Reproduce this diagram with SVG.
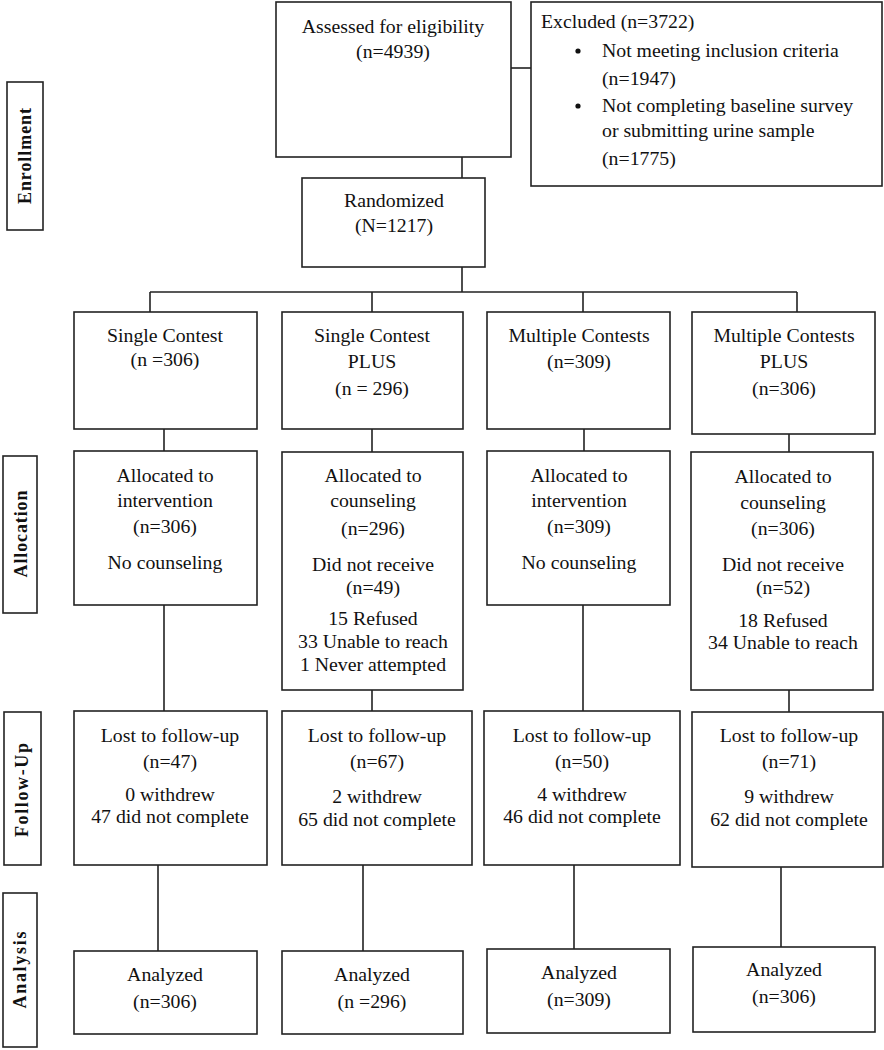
<svg xmlns="http://www.w3.org/2000/svg" width="884" height="1050" viewBox="0 0 884 1050" font-family="'Liberation Serif', 'Times New Roman', serif">
<style>
.b{fill:#fff;stroke:#222;stroke-width:1.6}
.c{fill:none;stroke:#222;stroke-width:1.6}
text{font-family:'Liberation Serif','Times New Roman',serif;font-size:19.8px;fill:#111}
.m{text-anchor:middle}
.s{font-weight:bold;font-size:18px;text-anchor:middle}
</style>
<rect width="884" height="1050" fill="#fff"/>
<g id="connectors">
<path class="c" d="M511 68H531"/>
<path class="c" d="M462 157V178"/>
<path class="c" d="M462 267V292M150 292H797M150 292V312M372 292V312M583 292V312M797 292V312"/>
<path class="c" d="M164 429V451M372 429V452M584 429V451M789 434V452"/>
<path class="c" d="M164 605V711M372 690V711M583 605V711M789 690V712"/>
<path class="c" d="M158 865V951M363 865V951M574 865V949M781 867V947"/>
</g>
<g id="lbl-enrollment"><rect class="b" x="7" y="82" width="36" height="148"/><text class="s" transform="translate(31 156) rotate(-90)" textLength="96" lengthAdjust="spacing">Enrollment</text></g>
<g id="lbl-allocation"><rect class="b" x="3" y="456" width="34" height="157"/><text class="s" transform="translate(27 534) rotate(-90)" textLength="87" lengthAdjust="spacing">Allocation</text></g>
<g id="lbl-followup"><rect class="b" x="4" y="712" width="37" height="153"/><text class="s" transform="translate(28 790) rotate(-90)" textLength="94" lengthAdjust="spacing">Follow-Up</text></g>
<g id="lbl-analysis"><rect class="b" x="3" y="893" width="34" height="154"/><text class="s" transform="translate(26 970) rotate(-90)" textLength="77" lengthAdjust="spacing">Analysis</text></g>
<g id="assessed"><rect class="b" x="276" y="2" width="235" height="155"/>
<text class="m" x="393" y="33">Assessed for eligibility</text><text class="m" x="393" y="58">(n=4939)</text></g>
<g id="excluded"><rect class="b" x="531" y="2" width="351" height="184"/>
<text x="541" y="28">Excluded (n=3722)</text>
<circle cx="578" cy="51" r="2.6" fill="#111"/><circle cx="578" cy="106" r="2.6" fill="#111"/>
<text x="602" y="57">Not meeting inclusion criteria</text>
<text x="602" y="85">(n=1947)</text>
<text x="602" y="112">Not completing baseline survey</text>
<text x="602" y="137">or submitting urine sample</text>
<text x="602" y="165">(n=1775)</text></g>
<g id="randomized"><rect class="b" x="302" y="178" width="183" height="89"/>
<text class="m" x="394" y="207">Randomized</text><text class="m" x="394" y="232">(N=1217)</text></g>
<g id="arm1"><rect class="b" x="74" y="312" width="183" height="117"/>
<text class="m" x="165" y="342">Single Contest</text><text class="m" x="165" y="366">(n =306)</text></g>
<g id="arm2"><rect class="b" x="282" y="312" width="181" height="117"/>
<text class="m" x="372" y="342">Single Contest</text><text class="m" x="372" y="368">PLUS</text><text class="m" x="372" y="395">(n = 296)</text></g>
<g id="arm3"><rect class="b" x="487" y="312" width="183" height="117"/>
<text class="m" x="579" y="342">Multiple Contests</text><text class="m" x="579" y="368">(n=309)</text></g>
<g id="arm4"><rect class="b" x="692" y="312" width="183" height="122"/>
<text class="m" x="784" y="342">Multiple Contests</text><text class="m" x="784" y="368">PLUS</text><text class="m" x="784" y="395">(n=306)</text></g>
<g id="alloc1"><rect class="b" x="74" y="451" width="183" height="154"/>
<text class="m" x="165" y="482">Allocated to</text><text class="m" x="165" y="507">intervention</text><text class="m" x="165" y="533">(n=306)</text><text class="m" x="165" y="569">No counseling</text></g>
<g id="alloc2"><rect class="b" x="282" y="452" width="181" height="238"/>
<text class="m" x="373" y="482">Allocated to</text><text class="m" x="373" y="507">counseling</text><text class="m" x="373" y="535">(n=296)</text><text class="m" x="373" y="571">Did not receive</text><text class="m" x="373" y="594">(n=49)</text><text class="m" x="373" y="625">15 Refused</text><text class="m" x="373" y="648">33 Unable to reach</text><text class="m" x="373" y="671">1 Never attempted</text></g>
<g id="alloc3"><rect class="b" x="487" y="451" width="183" height="154"/>
<text class="m" x="579" y="482">Allocated to</text><text class="m" x="579" y="507">intervention</text><text class="m" x="579" y="533">(n=309)</text><text class="m" x="579" y="569">No counseling</text></g>
<g id="alloc4"><rect class="b" x="691" y="452" width="182" height="238"/>
<text class="m" x="783" y="483">Allocated to</text><text class="m" x="783" y="509">counseling</text><text class="m" x="783" y="535">(n=306)</text><text class="m" x="783" y="571">Did not receive</text><text class="m" x="783" y="594">(n=52)</text><text class="m" x="783" y="627">18 Refused</text><text class="m" x="783" y="649">34 Unable to reach</text></g>
<g id="lost1"><rect class="b" x="74" y="711" width="193" height="154"/>
<text class="m" x="170" y="742">Lost to follow-up</text><text class="m" x="170" y="768">(n=47)</text><text class="m" x="170" y="801">0 withdrew</text><text class="m" x="170" y="823">47 did not complete</text></g>
<g id="lost2"><rect class="b" x="282" y="711" width="190" height="154"/>
<text class="m" x="377" y="742">Lost to follow-up</text><text class="m" x="377" y="768">(n=67)</text><text class="m" x="377" y="803">2 withdrew</text><text class="m" x="377" y="826">65 did not complete</text></g>
<g id="lost3"><rect class="b" x="484" y="711" width="196" height="154"/>
<text class="m" x="582" y="742">Lost to follow-up</text><text class="m" x="582" y="768">(n=50)</text><text class="m" x="582" y="801">4 withdrew</text><text class="m" x="582" y="823">46 did not complete</text></g>
<g id="lost4"><rect class="b" x="692" y="712" width="191" height="155"/>
<text class="m" x="789" y="742">Lost to follow-up</text><text class="m" x="789" y="768">(n=71)</text><text class="m" x="789" y="803">9 withdrew</text><text class="m" x="789" y="826">62 did not complete</text></g>
<g id="an1"><rect class="b" x="74" y="951" width="183" height="83"/>
<text class="m" x="165" y="981">Analyzed</text><text class="m" x="165" y="1008">(n=306)</text></g>
<g id="an2"><rect class="b" x="282" y="951" width="181" height="83"/>
<text class="m" x="372" y="981">Analyzed</text><text class="m" x="372" y="1008">(n =296)</text></g>
<g id="an3"><rect class="b" x="487" y="949" width="183" height="84"/>
<text class="m" x="579" y="979">Analyzed</text><text class="m" x="579" y="1006">(n=309)</text></g>
<g id="an4"><rect class="b" x="693" y="947" width="182" height="85"/>
<text class="m" x="784" y="976">Analyzed</text><text class="m" x="784" y="1003">(n=306)</text></g>
</svg>
